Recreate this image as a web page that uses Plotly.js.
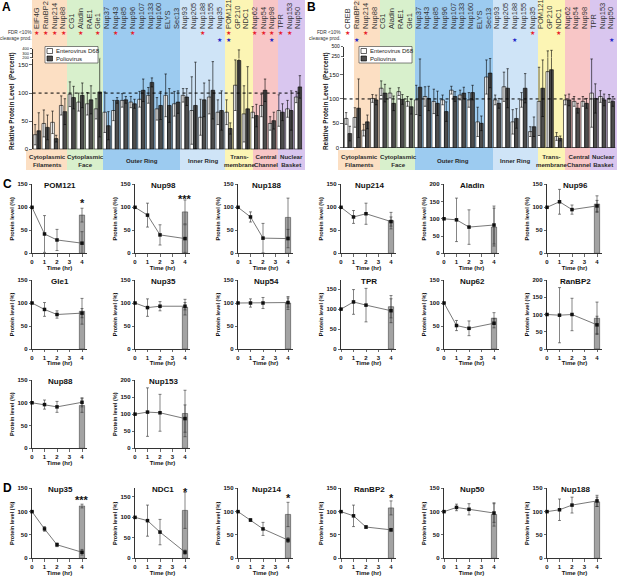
<!DOCTYPE html>
<html><head><meta charset="utf-8">
<script src="https://cdn.plot.ly/plotly-3.0.1.min.js"></script>
<style>html,body{margin:0;padding:0;background:#fff}#chart{width:617px;height:576px}</style>
</head><body><div id="chart"></div>
<script>
// ---------------- DATA ----------------
const catsA = ["EIF4G","RanBP2","Nup214","Nup88","CG1","Aladin","RAE1","Gle1","Nup37","Nup43","Nup85","Nup96","Nup107","Nup133","Nup160","ELYS","Sec13","Nup93","Nup205","Nup188","Nup155","Nup35","POM121","GP210","NDC1","Nup62","Nup54","Nup98","TPR","Nup153","Nup50"];
const ev68A    = [26,46,48,78,98,84,81,72,66,69,87,84,89,96,72,96,81,96,69,57,93,66,66,114,63,66,78,46,69,72,93];
const ev68AErr = [18,24,20,17,22,16,20,18,36,18,12,10,14,14,20,38,22,12,60,32,30,22,22,45,50,10,20,12,28,15,10];
const polioA    = [33,39,19,67,92,96,88,102,42,87,88,81,105,119,78,78,84,93,78,88,105,69,37,158,72,60,105,51,66,69,111];
const polioAErr = [32,22,6,23,20,22,25,80,25,5,6,8,20,8,25,30,20,15,77,30,51,35,10,220,75,20,20,15,15,35,20];
const redStarsA  = ["EIF4G","RanBP2","Nup214","Nup88","Aladin","Gle1","Nup43","Nup96","Nup188","POM121","Nup62","Nup54","Nup98","TPR","Nup153"];
const blueStarsA = ["Nup35","POM121","Nup98"];

const catsB = ["CREB","RanBP2","Nup214","Nup88","CG1","Aladin","RAE1","Gle1","Nup37","Nup43","Nup85","Nup96","Nup107","Nup133","Nup160","ELYS","Sec13","Nup93","Nup205","Nup188","Nup155","Nup35","POM121","GP210","NDC1","Nup62","Nup54","Nup98","TPR","Nup153","Nup50"];
const ev68B    = [60,62,36,101,122,112,115,95,98,105,95,98,118,108,98,53,145,98,125,53,98,33,95,156,23,98,95,95,112,105,101];
const ev68BErr = [12,20,12,8,15,10,8,10,30,20,25,10,8,10,15,30,35,10,30,25,15,10,70,240,8,10,10,10,70,12,8];
const polioB    = [29,81,53,98,112,91,99,84,124,101,91,74,105,112,113,50,153,91,122,60,122,43,122,160,19,98,81,91,101,98,95];
const polioBErr = [15,60,14,10,18,15,10,15,58,25,25,20,10,12,15,15,30,10,40,20,30,20,58,250,5,12,10,10,30,12,10];
const redStarsB  = ["CREB","Nup214","Nup35","NDC1"];
const blueStarsB = ["RanBP2","Nup188","Nup50"];

const groupLabels = ["Cytoplasmic<br>Filaments","Cytoplasmic<br>Face","Outer Ring","Inner Ring","Trans-<br>membrane","Central<br>Channel","Nuclear<br>Basket"];

const timeHr = [0,1,2,4];
const titlesC  = ["POM121","Nup98","Nup188","Nup214","Aladin","Nup96","Gle1","Nup35","Nup54","TPR","Nup62","RanBP2","Nup88","Nup153"];
const lineC    = [[100,42,29,22],[100,83,40,32],[100,79,33,32],[100,79,86,69],[100,97,76,82],[100,112,95,103],[100,86,75,78],[100,90,93,93],[100,100,100,101],[100,118,110,96],[100,51,45,56],[100,98,100,70],[100,96,91,101],[100,106,104,87]];
const lineErrC = [[0,40,23,25],[0,26,22,30],[0,11,32,20],[0,14,23,10],[0,63,50,55],[0,27,10,12],[0,15,8,10],[0,19,10,8],[0,9,12,10],[0,31,42,30],[0,11,16,10],[0,80,47,25],[0,10,12,10],[0,71,54,40]];
const barC     = [83,90,78,71,76,107,82,91,100,106,67,89,94,102];
const barErrC  = [15,26,42,18,55,18,28,17,14,28,12,47,15,68];
const starsC   = ["*","***","","","","","","","","","","","",""];

const titlesD  = ["Nup35","NDC1","Nup214","RanBP2","Nup50","Nup188"];
const lineD    = [[100,63,29,13],[100,92,64,15],[100,82,63,39],[100,91,67,61],[100,109,105,97],[100,104,114,123]];
const lineErrD = [[0,5,4,6],[0,38,31,5],[0,3,14,5],[0,23,3,3],[0,7,12,20],[0,23,17,12]];
const barD     = [112,117,94,108,94,121];
const barErrD  = [4,44,26,15,25,10];
const starsD   = ["***","*","*","*","",""];

// ---------------- LAYOUT HELPERS ----------------
const W = 617, H = 576;
const X = p => p / W;
const Y = p => 1 - p / H;
const FONT = 'Liberation Sans, Arial, sans-serif';
const traces = [];
const layout = {
  width: W, height: H, margin: {l:0, r:0, t:0, b:0},
  paper_bgcolor: '#fff', plot_bgcolor: 'rgba(0,0,0,0)',
  showlegend: false, barmode: 'group', bargap: 0.16, bargroupgap: 0,
  font: {family: FONT, color: '#111', size: 7},
  shapes: [], annotations: []
};
function rect(x0, x1, y0, y1, color) {
  layout.shapes.push({type:'rect', xref:'paper', yref:'paper', x0:X(x0), x1:X(x1), y0:Y(y1), y1:Y(y0), fillcolor:color, line:{width:0}, layer:'below'});
}
function ann(o) { layout.annotations.push(Object.assign({showarrow:false, xanchor:'center', yanchor:'middle'}, o)); }

const cols = ['#fcdfc3','#d8f0cc','#9ccbf0','#cfe4f7','#fcf5b4','#f8c6c6','#d9c6ef'];

// ---------------- PANELS A & B ----------------
function bigPanel(cfg) {
  const xa = cfg.xName, yl = cfg.yLow, yu = cfg.yUp;
  cfg.bounds.forEach((b, i) => rect(b[0], b[1], 0, 170, cols[i]));
  cfg.extraBands.forEach(b => rect(b[0], b[1], b[2], b[3], cols[0]));
  layout[cfg.xKey] = {domain:[X(cfg.xd[0]), X(cfg.xd[1])], anchor:'free', position:Y(29), side:'top',
    type:'category', range:[-0.5, cfg.cats.length - 0.5], tickmode:'linear', tick0:0, dtick:1,
    showline:false, ticks:'', tickangle:-90,
    tickfont:{size:7.5, color:'#333', family:FONT}, showgrid:false, zeroline:false, fixedrange:true};
  layout[cfg.yLowKey] = {domain:[Y(cfg.lowPx[0]), Y(cfg.lowPx[1])], range:cfg.lowRange, anchor:xa,
    showline:true, linecolor:'#000', linewidth:0.8, ticks:'outside', ticklen:2.5, tickwidth:0.8,
    tickvals:[0,50,100,150], tickfont:{size:6, family:FONT}, showgrid:false, zeroline:false, fixedrange:true};
  layout[cfg.yUpKey] = {domain:[Y(cfg.upPx[0]), Y(cfg.upPx[1])], range:cfg.upRange, anchor:xa,
    showline:true, linecolor:'#000', linewidth:0.8, ticks:'outside', ticklen:2, tickwidth:0.8,
    tickvals:cfg.upTicks, tickfont:{size:cfg.upFont, family:FONT}, showgrid:false, zeroline:false, fixedrange:true};
  [yl, yu].forEach(yax => {
    traces.push({type:'bar', x:cfg.cats, y:cfg.ev, xaxis:xa, yaxis:yax, name:'Enterovirus D68',
      marker:{color:'#ffffff', line:{color:'#000', width:0.6}},
      error_y:{type:'data', array:cfg.evErr, color:'#000', thickness:0.6, width:1.2}});
    traces.push({type:'bar', x:cfg.cats, y:cfg.pv, xaxis:xa, yaxis:yax, name:'Poliovirus',
      marker:{color:'#4d4d4d', line:{color:'#000', width:0.6}},
      error_y:{type:'data', array:cfg.pvErr, color:'#000', thickness:0.6, width:1.2}});
  });
  layout.shapes.push({type:'line', xref:'paper', yref:yl, x0:X(cfg.xd[0]), x1:X(cfg.xd[1]), y0:0, y1:0, line:{color:'#000', width:0.8}});
  layout.shapes.push({type:'line', xref:'paper', yref:yl, x0:X(cfg.xd[0]), x1:X(cfg.xd[1]), y0:100, y1:100, line:{color:'#000', width:1, dash:'dot'}});
  cfg.red.forEach(c => ann({xref:xa, yref:'paper', x:c, y:Y(32.5), text:'★', font:{size:6, color:'#e8202a', family:'DejaVu Sans'}}));
  cfg.blue.forEach(c => ann({xref:xa, yref:'paper', x:c, y:Y(39), text:'★', font:{size:6, color:'#2323c8', family:'DejaVu Sans'}}));
  ann({xref:'paper', yref:'paper', x:X(cfg.fdrX), y:Y(35.5), xanchor:'right', align:'right', borderpad:0,
    text:'FDR <10%<br>cleavage prod.', font:{size:4.8, color:'#333'}});
  ann({xref:'paper', yref:'paper', x:X(cfg.titleX), y:Y(101), textangle:-90,
    text:'Relative Protein Level  (Percent)', font:{size:6.4, weight:'bold', color:'#111'}});
  groupLabels.forEach((t, i) => ann({xref:'paper', yref:'paper', x:X(cfg.labX[i]), y:Y(160.5), text:t, borderpad:0,
    font:{size:6.1, weight:'bold', color:'#2a2a2a', family:FONT}}));
  const lx = cfg.legX;
  layout.shapes.push({type:'rect', xref:'paper', yref:'paper', x0:X(lx), x1:X(lx+53), y0:Y(63), y1:Y(46.5), fillcolor:'#fff', line:{color:'#333', width:0.6}});
  layout.shapes.push({type:'rect', xref:'paper', yref:'paper', x0:X(lx+2), x1:X(lx+7.5), y0:Y(53.5), y1:Y(48.5), fillcolor:'#fff', line:{color:'#000', width:0.6}});
  layout.shapes.push({type:'rect', xref:'paper', yref:'paper', x0:X(lx+2), x1:X(lx+7.5), y0:Y(61), y1:Y(56), fillcolor:'#4d4d4d', line:{color:'#000', width:0.6}});
  ann({xref:'paper', yref:'paper', x:X(lx+9), y:Y(51), xanchor:'left', text:'Enterovirus D68', font:{size:6, color:'#222'}});
  ann({xref:'paper', yref:'paper', x:X(lx+9), y:Y(58.5), xanchor:'left', text:'Poliovirus', font:{size:6, color:'#222'}});
  ann({xref:'paper', yref:'paper', x:X(cfg.letterX), y:Y(7), text:cfg.letter, font:{size:12, weight:'bold', color:'#000'}});
}

bigPanel({letter:'A', letterX:6, titleX:12, xName:'x', xKey:'xaxis', yLow:'y', yLowKey:'yaxis', yUp:'y2', yUpKey:'yaxis2',
  xd:[32.6, 302.4], lowPx:[149.3, 58.8], lowRange:[0,161], upPx:[58.3, 48.5], upRange:[185,410], upTicks:[200,300,400], upFont:4,
  cats:catsA, ev:ev68A, evErr:ev68AErr, pv:polioA, pvErr:polioAErr, red:redStarsA, blue:blueStarsA,
  bounds:[[32,67],[67,103],[103,180],[180,225],[225,253],[253,278],[278,305]], extraBands:[[26,32,150,170]],
  labX:[47,85,142,203,239,266,291], legX:45, fdrX:33});

bigPanel({letter:'B', letterX:312, titleX:326, xName:'x2', xKey:'xaxis2', yLow:'y3', yLowKey:'yaxis3', yUp:'y4', yUpKey:'yaxis4',
  xd:[343.6, 615.4], lowPx:[147.7, 57.5], lowRange:[0,185], upPx:[57.3, 46.5], upRange:[235,505], upTicks:[250,500], upFont:5,
  cats:catsB, ev:ev68B, evErr:ev68BErr, pv:polioB, pvErr:polioBErr, red:redStarsB, blue:blueStarsB,
  bounds:[[354,380],[380,415],[415,493],[493,538],[538,565],[565,590],[590,617]], extraBands:[[338,354,150,170]],
  labX:[360,398,453,515,551,579,603], legX:359, fdrX:342});

// ---------------- PANELS C & D ----------------
const colX = [32,135,238,341,444,547];
const rowPx = [[184.3,253.3],[280,349],[380,448.3],[488.3,558.3]];
const ymaxC = [150,150,150,150,200,150,150,150,150,173,150,200,150,200];
const ymaxD = [150,171,150,150,150,150];
const starYC = [200,196];
const starYD = [497,489,495,495];
let axN = 3, ayN = 5;
function small(title, line, lineErr, bar, barErr, star, ymax, col, row, starY) {
  const xk = 'x' + axN, yk = 'y' + ayN;
  const x0 = colX[col], pr = rowPx[row];
  const tv = ymax >= 200 ? [0,50,100,150,200] : [0,50,100,150];
  layout['xaxis' + axN] = {domain:[X(x0), X(x0 + 55)], range:[0, 4.4], anchor:yk, tickvals:[0,1,2,3,4],
    ticks:'outside', ticklen:2.5, tickwidth:0.8, showline:true, linecolor:'#000', linewidth:0.8,
    tickfont:{size:6, weight:'bold', family:FONT}, showgrid:false, zeroline:false, fixedrange:true,
    title:{text:'Time (hr)', font:{size:6, weight:'bold', family:FONT}, standoff:0}};
  layout['yaxis' + ayN] = {domain:[Y(pr[1]), Y(pr[0])], range:[0, ymax], anchor:xk, tickvals:tv,
    ticks:'outside', ticklen:2.5, tickwidth:0.8, showline:true, linecolor:'#000', linewidth:0.8,
    tickfont:{size:6, weight:'bold', family:FONT}, showgrid:false, zeroline:false, fixedrange:true,
    title:{text:'Protein level (%)', font:{size:5.6, weight:'bold', family:FONT}, standoff:2}};
  traces.push({type:'bar', x:[4], y:[bar], width:0.42, xaxis:xk, yaxis:yk,
    marker:{color:'#a3a3a3', line:{color:'#444', width:0.6}},
    error_y:{type:'data', array:[barErr], color:'#333', thickness:0.6, width:1.5}});
  traces.push({type:'scatter', mode:'lines+markers', x:timeHr, y:line, xaxis:xk, yaxis:yk, cliponaxis:false,
    line:{color:'#555', width:0.8}, marker:{symbol:'square', size:3.5, color:'#111'},
    error_y:{type:'data', array:lineErr, color:'#333', thickness:0.6, width:1.5}});
  ann({xref:'paper', yref:'paper', x:X(x0 + 28), y:Y(pr[0] + 1), text:title, font:{size:8, weight:'bold', color:'#111'}});
  if (star) ann({xref:xk, yref:'paper', x:4, y:Y(starY + 3), text:star, font:{size:11, weight:'bold', color:'#111'}});
  axN++; ayN++;
}
titlesC.forEach((t, i) => {
  const row = Math.floor(i / 6), col = i % 6;
  small(t, lineC[i], lineErrC[i], barC[i], barErrC[i], starsC[i], ymaxC[i], col, row, starYC[i] || 0);
});
titlesD.forEach((t, i) => {
  small(t, lineD[i], lineErrD[i], barD[i], barErrD[i], starsD[i], ymaxD[i], i, 3, starYD[i] || 0);
});
ann({xref:'paper', yref:'paper', x:X(7), y:Y(184), text:'C', font:{size:12, weight:'bold', color:'#000'}});
ann({xref:'paper', yref:'paper', x:X(7), y:Y(488), text:'D', font:{size:12, weight:'bold', color:'#000'}});

Plotly.newPlot('chart', traces, layout, {displayModeBar:false, staticPlot:true});
</script>
</body></html>
